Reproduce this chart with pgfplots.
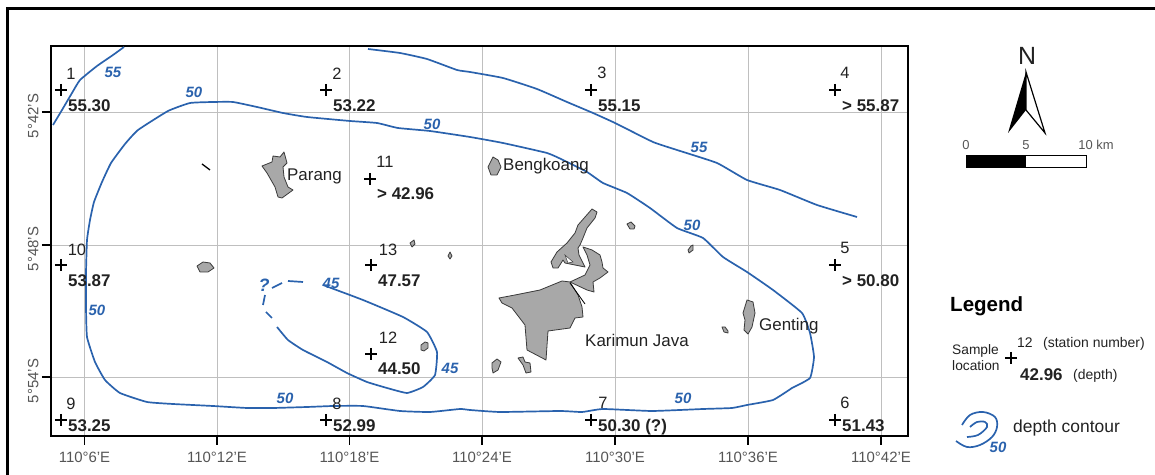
\documentclass[border=0pt]{standalone}
\usepackage{pgfplots}
\pgfplotsset{compat=1.18}
\usepackage{fontspec}
\setmainfont{Liberation Sans}
\definecolor{contour}{HTML}{2A62AD}
\definecolor{txt}{HTML}{222222}
\definecolor{tick}{HTML}{555555}
\definecolor{isl}{HTML}{A8A8A8}
\definecolor{isle}{HTML}{3A3A3A}
\newcommand{\fs}[1]{\fontsize{#1}{#1}\selectfont}
\tikzset{
 cl/.style={font=\fs{15}\bfseries\itshape,text=contour,inner sep=0pt},
 num/.style={font=\fs{16.5},text=txt,inner sep=0pt},
 dep/.style={font=\fs{17}\bfseries,text=txt,inner sep=0pt,anchor=base west},
 name/.style={font=\fs{17},text=txt,inner sep=0pt},
 land/.style={fill=isl,draw=isle,line width=0.8pt,line join=round},
 cont/.style={contour,line width=1.7pt,line join=round,smooth,tension=0.25}
}
\begin{document}
\begin{tikzpicture}[x=1bp,y=1bp]
\begin{axis}[
 scale only axis, width=857bp, height=390bp,
 xmin=51, xmax=908, ymin=46, ymax=436, y dir=reverse,
 axis line style={black,line width=2.4pt},
 xtick={84.5,217,349.5,482,615,748,881},
 xticklabels={110°6'E,110°12'E,110°18'E,110°24'E,110°30'E,110°36'E,110°42'E},
 ytick={112,245,377},
 yticklabels={5°42'S,5°48'S,5°54'S},
 xmajorgrids, ymajorgrids,
 grid style={draw=gray!50,line width=0.7pt},
 major tick length=9bp,
 tick align=outside,
 xtick pos=bottom, ytick pos=left,
 tick style={black,line width=1.6pt},
 every x tick label/.style={font=\fs{15},text=tick},
 every y tick label/.style={font=\fs{15},text=tick,rotate=90,anchor=south},
 xticklabel style={yshift=-4bp},
 yticklabel style={xshift=-4bp},
 clip=false,
]
% outer frame
\draw[overlay,black,line width=2.6pt] (axis cs:7.5,477) -- (axis cs:7.5,8.5) -- (axis cs:1157,8.5);
\path (axis cs:0,0) rectangle (axis cs:1155,475);
% islands
\addplot[land] coordinates {(262,166)(272,162)(273,156)(280,157)(284,152)(287,163)(283,167)(284,177)(288,187)(293,190)(282,198)(278,197)(275,187)(267,173)} -- cycle;
\addplot[land] coordinates {(197,266)(203,262)(210,263)(214,268)(208,272)(200,272)} -- cycle;
\addplot[land] coordinates {(410,243)(414,240)(415,244)(412,247)} -- cycle;
\addplot[land] coordinates {(448,256)(450,252)(452,256)(450,259)} -- cycle;
\addplot[land] coordinates {(421,345)(425,342)(428,343)(428,348)(424,351)(421,350)} -- cycle;
\addplot[land] coordinates {(493,157)(498,160)(501,167)(497,175)(491,175)(488,167)} -- cycle;
\addplot[land] coordinates {(592,209)(597,212)(595,218)(587,228)(583,238)(580,245)(578,248)(579,255)(585,267)(565,263)(563,260)(558,268)(553,268)(551,262)(557,252)(567,243)(575,233)(578,225)} -- cycle;
\addplot[fill=white,draw=isle,line width=0.5pt] coordinates {(565,255)(573,262)(568,263)} -- cycle;
\addplot[land] coordinates {(583,247)(592,250)(600,255)(602,262)(603,268)(608,272)(600,278)(593,282)(594,292)(587,290)(570,282)(585,275)(590,265)(587,255)} -- cycle;
\addplot[land] coordinates {(499,298)(515,295)(540,290)(562,281)(570,282)(578,295)(582,307)(583,317)(575,318)(570,328)(548,331)(546,360)(527,350)(525,325)(512,308)(502,303)} -- cycle;
\addplot[land] coordinates {(627,224)(631,222)(635,226)(634,229)(630,229)} -- cycle;
\addplot[land] coordinates {(688,250)(691,246)(693,245)(693,250)(689,253)} -- cycle;
\addplot[land] coordinates {(747,300)(753,302)(755,313)(752,327)(748,334)(744,330)(745,320)(743,313)} -- cycle;
\addplot[land] coordinates {(722,327)(725,327)(728,331)(728,333)(724,332)} -- cycle;
\addplot[land] coordinates {(492,363)(497,359)(501,362)(498,370)(493,373)(492,368)} -- cycle;
\addplot[land] coordinates {(518,358)(523,357)(525,362)(530,363)(531,372)(526,373)(523,365)} -- cycle;
\addplot[black,line width=1.3pt] coordinates {(202,164)(210,170)};
\addplot[black,line width=0.8pt] coordinates {(570,283)(585,304)};
% contours
\addplot[cont] coordinates {(53,125)(62,110)(72,93)(80,80)(97,66)(113,55)(124,47)};
\addplot[cont] coordinates {(368,49)(400,53)(427,59)(457,70)(470,72)(503,78)(537,89)(567,102)(593,113)(615,123)(653,142)(677,150)(717,163)(747,180)(780,190)(817,205)(857,217)};
\addplot[cont] coordinates {(792,388)(810,378)(814,357)(810,333)(802,313)(773,290)(747,272)(723,257)(703,238)(677,228)(650,208)(627,193)(603,183)(587,172)(563,160)(547,153)(503,143)(470,137)(430,131)(398,128)(377,123)(350,121)(307,117)(283,113)(257,107)(233,102)(213,102)(190,103)(168,111)(138,130)(125,144)(111,163)(102,182)(94,202)(90,220)(87,240)(86,273)(86,307)(87,337)(95,362)(105,380)(120,393)(147,402)(173,404)(213,406)(247,408)(273,408)(307,407)(333,406)(363,406)(400,411)(430,412)(460,409)(470,410)(500,412)(560,411)(582,412)(603,409)(652,411)(703,409)(732,408)(747,405)(773,400)(792,388)};
\addplot[cont] coordinates {(323,285)(363,300)(403,317)(427,332)(437,352)(435,375)(423,387)(407,393)(387,388)(367,382)(347,373)(327,362)(303,350)(288,340)(277,327)};
\addplot[cont] coordinates {(272,318)(266,312)};
\addplot[cont] coordinates {(263,305)(265,295)};
\addplot[cont] coordinates {(272,288)(282,283)};
\addplot[cont] coordinates {(288,281)(303,282)};
% stations
\addplot[only marks,mark=+,mark size=6bp,mark options={black,line width=1.4pt}] coordinates {(61,90)(326,90)(591,90)(835,90)(370,179)(371,265)(835,265)(61,265)(371,354)(61,420)(326,420)(591,420)(835,420)};
% station numbers
\node[num] at (axis cs:71,74) {1};
\node[num] at (axis cs:337,74) {2};
\node[num] at (axis cs:602,73) {3};
\node[num] at (axis cs:845,73) {4};
\node[num] at (axis cs:385,162) {11};
\node[num] at (axis cs:388,250) {13};
\node[num] at (axis cs:845,248) {5};
\node[num] at (axis cs:77,250) {10};
\node[num] at (axis cs:388,338) {12};
\node[num] at (axis cs:71,404) {9};
\node[num] at (axis cs:337,404) {8};
\node[num] at (axis cs:603,403) {7};
\node[num] at (axis cs:845,403) {6};
% depths
\node[dep] at (axis cs:68,112) {55.30};
\node[dep] at (axis cs:333,112) {53.22};
\node[dep] at (axis cs:598,112) {55.15};
\node[dep] at (axis cs:842,112) {> 55.87};
\node[dep] at (axis cs:377,200) {> 42.96};
\node[dep] at (axis cs:378,287) {47.57};
\node[dep] at (axis cs:842,287) {> 50.80};
\node[dep] at (axis cs:68,287) {53.87};
\node[dep] at (axis cs:378,375) {44.50};
\node[dep] at (axis cs:68,432) {53.25};
\node[dep] at (axis cs:333,432) {52.99};
\node[dep] at (axis cs:598,432) {50.30 (?)};
\node[dep] at (axis cs:842,432) {51.43};
% contour labels
\node[cl] at (axis cs:113,72) {55};
\node[cl] at (axis cs:194,92) {50};
\node[cl] at (axis cs:432,124) {50};
\node[cl] at (axis cs:699,147) {55};
\node[cl] at (axis cs:692,225) {50};
\node[cl] at (axis cs:97,310) {50};
\node[cl] at (axis cs:331,283) {45};
\node[cl] at (axis cs:450,368) {45};
\node[cl] at (axis cs:285,398) {50};
\node[cl] at (axis cs:683,398) {50};
\node[cl,font=\fs{18}\bfseries\itshape] at (axis cs:264,285) {?};
% island names
\node[name,anchor=base west] at (axis cs:287,181) {Parang};
\node[name,anchor=base west] at (axis cs:503,171) {Bengkoang};
\node[name,anchor=base west] at (axis cs:585,347) {Karimun Java};
\node[name,anchor=base west] at (axis cs:759,331) {Genting};
% north arrow
\node[font=\fs{25},text=txt,inner sep=0pt] at (axis cs:1027,56) {N};
\fill[black] (axis cs:1026,72) -- (axis cs:1008,133) -- (axis cs:1026,110) -- cycle;
\draw[black,line width=1.2pt,line join=miter,fill=white] (axis cs:1026,72) -- (axis cs:1045,133) -- (axis cs:1026,110) -- cycle;
% scale bar
\node[font=\fs{13},text=tick,inner sep=0pt] at (axis cs:966,145) {0};
\node[font=\fs{13},text=tick,inner sep=0pt] at (axis cs:1026,145) {5};
\node[font=\fs{13},text=tick,inner sep=0pt] at (axis cs:1096,145) {10 km};
\fill[black] (axis cs:966,156) rectangle (axis cs:1026,168);
\draw[black,line width=1pt] (axis cs:966,156) rectangle (axis cs:1086,168);
% legend
\node[font=\fs{20.6}\bfseries,text=black,inner sep=0pt,anchor=base west] at (axis cs:950,312) {Legend};
\node[font=\fs{13.8},text=txt,inner sep=0pt,anchor=base west] at (axis cs:952,355) {Sample};
\node[font=\fs{13.8},text=txt,inner sep=0pt,anchor=base west] at (axis cs:952,371) {location};
\addplot[only marks,mark=+,mark size=6bp,mark options={black,line width=1.4pt}] coordinates {(1011,358)};
\node[font=\fs{14},text=txt,inner sep=0pt,anchor=base west] at (axis cs:1017,348) {12};
\node[font=\fs{14},text=txt,inner sep=0pt,anchor=base west] at (axis cs:1043,348) {(station number)};
\node[font=\fs{17}\bfseries,text=txt,inner sep=0pt,anchor=base west] at (axis cs:1020,381) {42.96};
\node[font=\fs{14},text=txt,inner sep=0pt,anchor=base west] at (axis cs:1073,380) {(depth)};
\node[font=\fs{17.5},text=txt,inner sep=0pt,anchor=base west] at (axis cs:1013,433) {depth contour};
\addplot[cont,tension=0.6] coordinates {(956,441)(967,447)(980,445)(992,437)(997,427)(995,417)(983,412)(970,415)(962,425)};
\addplot[cont,tension=0.6] coordinates {(967,437)(978,435)(987,427)(985,422)(977,422)(970,427)};
\node[cl] at (axis cs:998,447) {50};
\end{axis}
\end{tikzpicture}
\end{document}
